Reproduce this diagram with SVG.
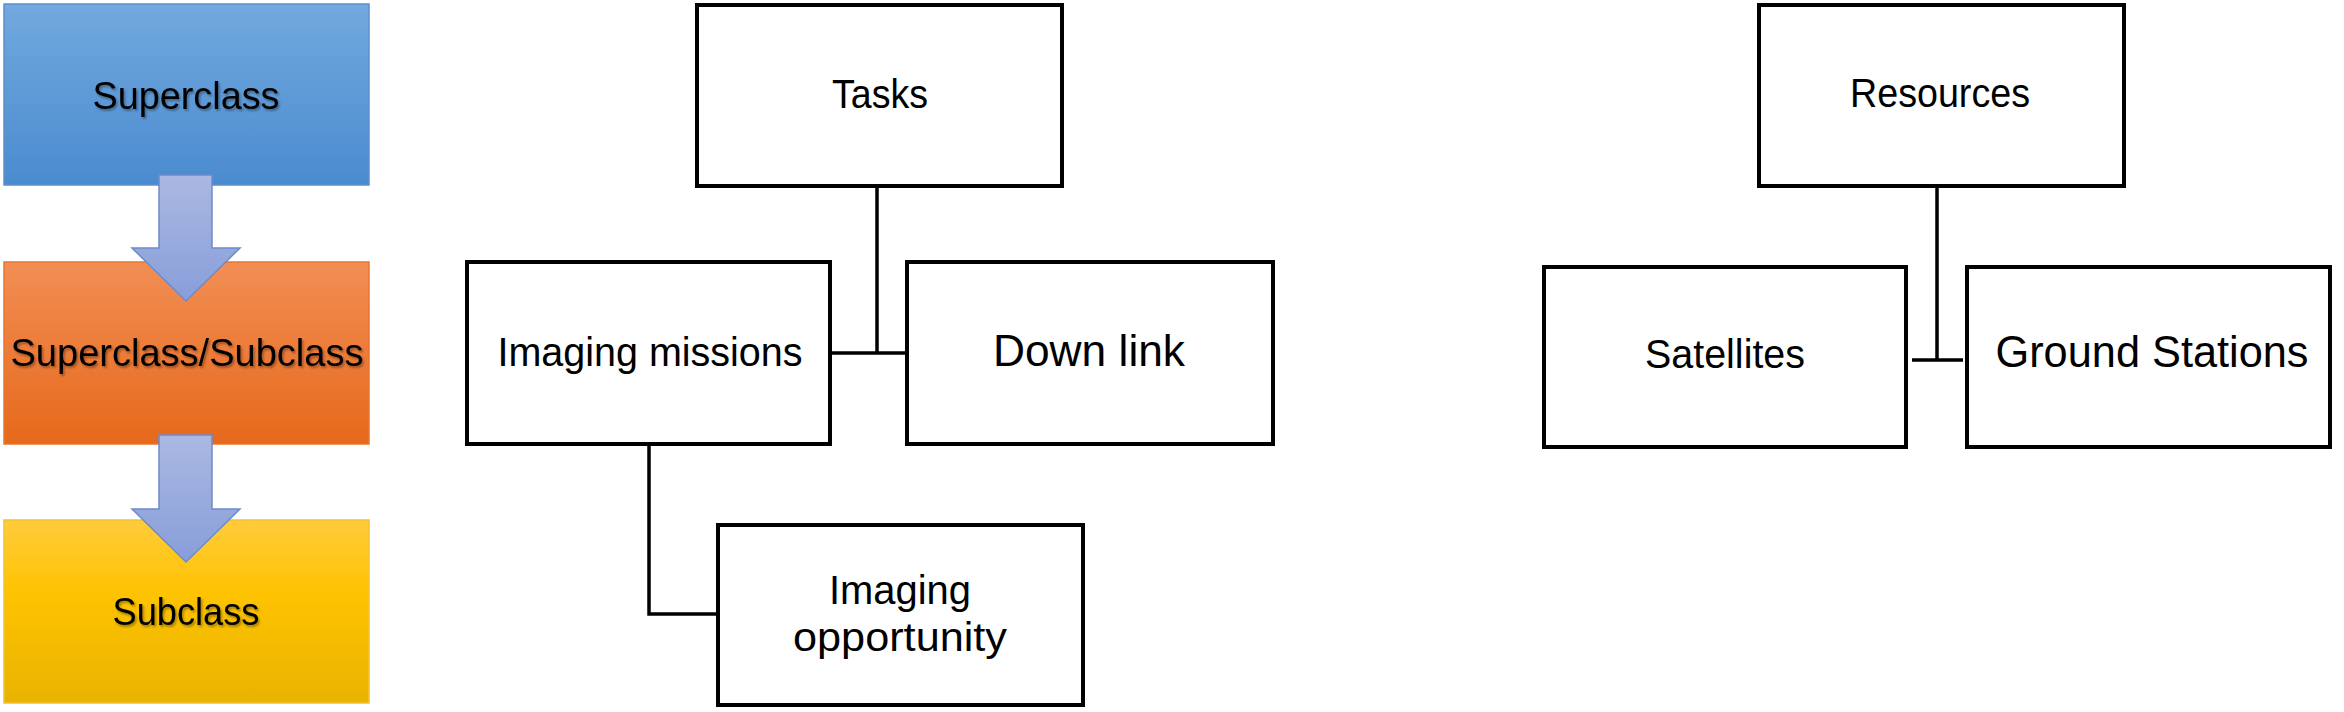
<svg xmlns="http://www.w3.org/2000/svg" width="2344" height="712" viewBox="0 0 2344 712">
<defs>
<linearGradient id="gBlue" x1="0" y1="0" x2="0" y2="1"><stop offset="0" stop-color="#72A9DE"/><stop offset="1" stop-color="#4A8BCF"/></linearGradient>
<linearGradient id="gOrange" x1="0" y1="0" x2="0" y2="1"><stop offset="0" stop-color="#F28E55"/><stop offset="1" stop-color="#E6691B"/></linearGradient>
<linearGradient id="gYellow" x1="0" y1="0" x2="0" y2="1"><stop offset="0" stop-color="#FFCB3C"/><stop offset="0.4" stop-color="#FEC300"/><stop offset="1" stop-color="#E8B300"/></linearGradient>
<linearGradient id="gArrow" x1="0" y1="0" x2="0" y2="1"><stop offset="0" stop-color="#AAB8E2"/><stop offset="1" stop-color="#889EDA"/></linearGradient>
<filter id="shadow" x="-10%" y="-30%" width="120%" height="160%"><feDropShadow dx="1.5" dy="2" stdDeviation="1.2" flood-color="#000" flood-opacity="0.35"/></filter>
<style>
.box{fill:#fff;stroke:#000;stroke-width:4}
.lbl{font-family:"Liberation Sans",Arial,sans-serif;font-size:40px;fill:#000;text-anchor:middle}
.cls{font-family:"Liberation Sans",Arial,sans-serif;font-size:38px;fill:#000;text-anchor:middle;filter:url(#shadow)}
.conn{fill:none;stroke:#000;stroke-width:3.5}
.arrow{fill:url(#gArrow);stroke:#6C8BCB;stroke-width:1.5}
</style>
</defs>

<g id="legend-superclass">
<rect x="4" y="4" width="365" height="181" fill="url(#gBlue)" stroke="#5A90CC" stroke-width="1.5"/>
<text class="cls" x="186" y="109" textLength="187" lengthAdjust="spacingAndGlyphs">Superclass</text>
</g>
<g id="legend-supersub">
<rect x="4" y="262" width="365" height="182" fill="url(#gOrange)" stroke="#E8752F" stroke-width="1.5"/>
<text class="cls" x="187" y="366" textLength="353" lengthAdjust="spacingAndGlyphs">Superclass/Subclass</text>
</g>
<g id="legend-subclass">
<rect x="4" y="520" width="365" height="183" fill="url(#gYellow)" stroke="#F2C230" stroke-width="1.5"/>
<text class="cls" x="186" y="625" textLength="147" lengthAdjust="spacingAndGlyphs">Subclass</text>
</g>
<g id="legend-arrows">
<polygon class="arrow" points="159,175 212,175 212,248 240,248 186,301 132,248 159,248"/>
<polygon class="arrow" points="159,435 212,435 212,509 240,509 186,562 132,509 159,509"/>
</g>

<g id="connectors">
<path class="conn" d="M877,186 V353 M830,353 H907"/>
<path class="conn" d="M649,444 V614 H718"/>
<path class="conn" d="M1937,186 V360 M1912,360 H1963"/>
</g>

<g id="tasks">
<rect class="box" x="697" y="5" width="365" height="181"/>
<text class="lbl" x="880" y="108" textLength="96" lengthAdjust="spacingAndGlyphs">Tasks</text>
</g>
<g id="imaging-missions">
<rect class="box" x="467" y="262" width="363" height="182"/>
<text class="lbl" x="650" y="366" textLength="305" lengthAdjust="spacingAndGlyphs">Imaging missions</text>
</g>
<g id="down-link">
<rect class="box" x="907" y="262" width="366" height="182"/>
<text class="lbl" x="1089" y="366" style="font-size:45px" textLength="192" lengthAdjust="spacingAndGlyphs">Down link</text>
</g>
<g id="imaging-opportunity">
<rect class="box" x="718" y="525" width="365" height="180"/>
<text class="lbl" x="900" y="604" textLength="142" lengthAdjust="spacingAndGlyphs">Imaging</text>
<text class="lbl" x="900" y="651" textLength="214" lengthAdjust="spacingAndGlyphs">opportunity</text>
</g>
<g id="resources">
<rect class="box" x="1759" y="5" width="365" height="181"/>
<text class="lbl" x="1940" y="107" textLength="180" lengthAdjust="spacingAndGlyphs">Resources</text>
</g>
<g id="satellites">
<rect class="box" x="1544" y="267" width="362" height="180"/>
<text class="lbl" x="1725" y="368" textLength="160" lengthAdjust="spacingAndGlyphs">Satellites</text>
</g>
<g id="ground-stations">
<rect class="box" x="1967" y="267" width="363" height="180"/>
<text class="lbl" x="2152" y="367" style="font-size:44px" textLength="313" lengthAdjust="spacingAndGlyphs">Ground Stations</text>
</g>
</svg>
